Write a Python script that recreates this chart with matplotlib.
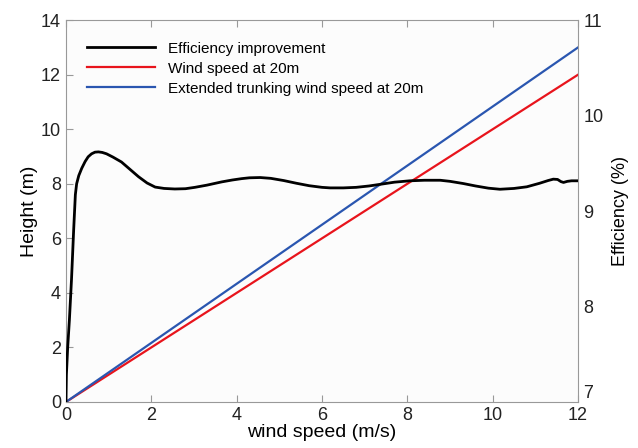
import matplotlib.pyplot as plt

plt.rcParams['font.family'] = ['Liberation Sans', 'DejaVu Sans']

# wind speed (m/s) and the curves
vento = [0, 12]
altura_20m = [0, 12]
altura_ext = [0, 13]

vento_ef = [0.0, 0.01, 0.04, 0.08, 0.13, 0.18, 0.22, 0.25, 0.3, 0.37, 0.45, 0.52, 0.6,
            0.68, 0.76, 0.85, 0.95, 1.1, 1.3, 1.5, 1.7, 1.9, 2.09, 2.3, 2.55, 2.8,
            3.02, 3.3, 3.65, 3.9, 4.12, 4.3, 4.55, 4.8, 5.1, 5.4, 5.7, 6.0, 6.19,
            6.5, 6.8, 7.1, 7.36, 7.7, 8.06, 8.4, 8.77, 9.0, 9.31, 9.6, 9.9, 10.17,
            10.5, 10.8, 11.1, 11.3, 11.42, 11.52, 11.6, 11.66, 11.75, 11.85, 12.0]
eficiencia = [0.0, 1.0, 2.0, 3.0, 4.5, 6.3, 7.6, 8.0, 8.3, 8.57, 8.82, 8.99, 9.1,
              9.16, 9.17, 9.15, 9.1, 8.98, 8.8, 8.53, 8.26, 8.03, 7.88, 7.83, 7.81, 7.82,
              7.87, 7.95, 8.07, 8.14, 8.19, 8.22, 8.23, 8.2, 8.12, 8.02, 7.93, 7.87, 7.85,
              7.85, 7.87, 7.92, 7.98, 8.06, 8.11, 8.13, 8.13, 8.09, 8.01, 7.92, 7.84, 7.8,
              7.83, 7.89, 8.02, 8.12, 8.17, 8.16, 8.08, 8.05, 8.09, 8.11, 8.11]

ef_ticks = [7, 8, 9, 10, 11]

fig = plt.figure(figsize=(6.38, 4.48), dpi=100)
ax = fig.add_axes([0.1034, 0.1027, 0.8026, 0.8523])
ax.set_facecolor('#fcfcfc')
fig.patch.set_facecolor('white')

ax.plot(vento_ef, eficiencia, color='black', linewidth=2, label='Efficiency improvement',
        zorder=3, solid_joinstyle='round')
ax.plot(vento, altura_20m, color='#e8141c', linewidth=1.6, label='Wind speed at 20m', zorder=2)
ax.plot(vento, altura_ext, color='#2a56b0', linewidth=1.6, label='Extended trunking wind speed at 20m', zorder=2)

ax.set_xlim(0, 12)
ax.set_ylim(0, 14)
ax.set_xticks(range(0, 13, 2))
ax.set_yticks(range(0, 15, 2))
ax.tick_params(direction='in', top=True, right=True, labelsize=13, colors='#222222',
               length=5, width=0.8)
ax.tick_params(axis='both', color='#999999')
for s in ax.spines.values():
    s.set_color('#999999')
ax.set_xlabel('wind speed (m/s)', fontsize=14, labelpad=0)
ax.set_ylabel('Height (m)', fontsize=14, labelpad=2)

ax2 = ax.twinx()
ax2.set_ylim(7, 11)
marcas = ax2.set_yticks(ef_ticks, labels=[str(v) for v in ef_ticks])
ax2.tick_params(length=0, labelsize=13, colors='#222222', pad=4)
# o "7" fica um pouco acima, como no original
marcas[0].label1.set_va('bottom')
marcas[0].label2.set_va('bottom')
ax2.set_ylabel('Efficiency (%)', fontsize=13, labelpad=6)
for s in ax2.spines.values():
    s.set_visible(False)

leg = ax.legend(loc='upper left', frameon=False, fontsize=11, handlelength=4.4,
                handletextpad=0.9, labelspacing=0.4, borderaxespad=1.0)

fig.savefig('out.png', dpi=100)
